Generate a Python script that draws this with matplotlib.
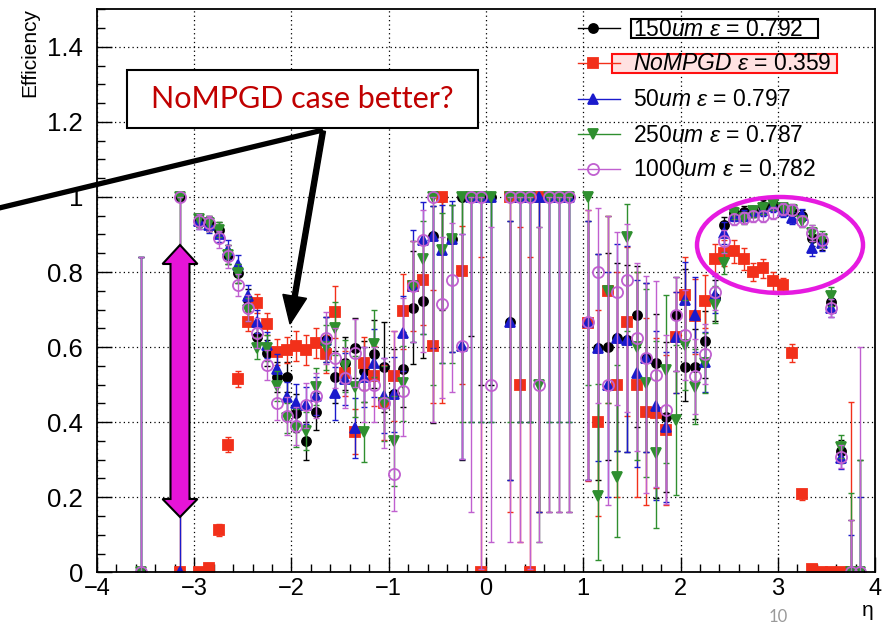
import numpy as np
import matplotlib
matplotlib.use('Agg')
import matplotlib.pyplot as plt
from matplotlib.ticker import MultipleLocator, FixedLocator, FixedFormatter
from matplotlib.patches import Rectangle, Ellipse, Polygon

plt.rcParams['font.family'] = ['Liberation Sans', 'DejaVu Sans']
plt.rcParams['mathtext.fontset'] = 'custom'
plt.rcParams['mathtext.rm'] = 'Liberation Sans'
plt.rcParams['mathtext.it'] = 'Liberation Sans:italic'

nan = np.nan

# eta bin centres (bins with no entries left out)
eta = [-3.55, -3.15, -2.95, -2.85, -2.75, -2.65, -2.55, -2.45, -2.35, -2.25,
       -2.15, -2.05, -1.95, -1.85, -1.75, -1.65, -1.55, -1.45, -1.35, -1.25,
       -1.15, -1.05, -0.95, -0.85, -0.75, -0.65, -0.55, -0.45, -0.35, -0.25,
       -0.15, -0.05, 0.05, 0.25, 0.35, 0.45, 0.55, 0.65, 0.75, 0.85,
       1.05, 1.15, 1.25, 1.35, 1.45, 1.55, 1.65, 1.75, 1.85, 1.95,
       2.05, 2.15, 2.25, 2.35, 2.45, 2.55, 2.65, 2.75, 2.85, 2.95,
       3.05, 3.15, 3.25, 3.35, 3.45, 3.55, 3.65, 3.75, 3.85]

eff_150 = [0, 1.0, 0.94, 0.93, 0.913, 0.846, 0.797, 0.726, 0.628, 0.584,
           0.52, 0.52, 0.424, 0.35, 0.428, 0.62, 0.52, 0.557, 0.597, 0.535,
           0.582, 0.548, 0.474, 0.541, 0.705, 0.722, 0.897, 1.0, 0.888, 1.0,
           1.0, 1.0, 1.0, 0.666, 1.0, 1.0, 1.0, 1.0, 1.0, 1.0,
           0.666, 0.597, 0.6, 0.624, 0.62, 0.686, 0.57, 0.557, 0.413, 0.686,
           0.547, 0.548, 0.617, 0.73, 0.926, 0.957, 0.96, 0.962, 0.977, 0.98,
           0.97, 0.96, 0.95, 0.89, 0.88, 0.72, 0.322, 0, 0]
eff_nompgd = [nan, 0.0, 0.0, 0.012, 0.113, 0.34, 0.515, 0.668, 0.717, 0.662,
              0.586, 0.593, 0.603, 0.593, 0.61, 0.582, 0.693, 0.53, 0.374, 0.557,
              0.522, 0.452, 0.523, 0.696, 0.763, 0.778, 0.602, 1.0, nan, 0.802,
              nan, 0.0, nan, 1.0, 0.5, 0.0, 1.0, nan, nan, nan,
              0.664, 0.4, 0.75, 0.5, 0.666, 0.5, 0.428, 0.424, 0.38, 0.628,
              0.74, 0.682, 0.722, 0.835, 0.85, 0.855, 0.835, 0.80, 0.81, 0.775,
              0.765, 0.584, 0.208, 0.01, 0.0, 0.0, 0.0, 0.0, nan]
eff_50 = [0, 0, 0.935, 0.925, 0.90, 0.86, 0.82, 0.735, 0.668, 0.606,
          0.542, 0.467, 0.452, 0.445, 0.47, 0.62, 0.477, 0.515, 0.384, 0.52,
          0.557, 0.47, 0.474, 0.637, 0.763, 0.886, 0.897, 0.858, 0.888, 0.602,
          1.0, 1.0, 1.0, 0.666, 1.0, 1.0, 1.0, 1.0, 1.0, 1.0,
          0.666, 0.597, 0.5, 0.624, 0.62, 0.53, 0.57, 0.442, 0.388, 0.628,
          0.726, 0.686, 0.56, 0.74, 0.904, 0.95, 0.95, 0.962, 0.965, 0.975,
          0.962, 0.944, 0.953, 0.864, 0.877, 0.704, 0.304, 0, 0]
eff_250 = [0, 1.0, 0.94, 0.93, 0.913, 0.846, 0.797, 0.70, 0.597, 0.597,
           0.497, 0.41, 0.384, 0.377, 0.495, 0.60, 0.65, 0.55, 0.495, 0.375,
           0.609, 0.45, 0.35, 0.504, 0.763, 0.835, 1.0, 0.858, 0.888, 1.0,
           1.0, 1.0, 1.0, 1.0, 1.0, 1.0, 0.5, 1.0, 1.0, 1.0,
           1.0, 0.203, 0.75, 0.253, 0.892, 0.6, 0.504, 0.317, 0.54, 0.405,
           0.606, 0.495, 0.557, 0.713, 0.824, 0.957, 0.944, 0.962, 0.97, 0.98,
           0.97, 0.966, 0.935, 0.904, 0.888, 0.735, 0.335, 0, 0]
eff_1000 = [0, 1.0, 0.935, 0.93, 0.89, 0.842, 0.766, 0.704, 0.637, 0.553,
            0.45, 0.417, 0.39, 0.445, 0.47, 0.624, 0.572, 0.517, 0.584, 0.50,
            0.50, 0.452, 0.262, 0.482, 0.763, 0.886, 1.0, 0.714, 0.78, 0.602,
            1.0, 1.0, 0.5, 1.0, 1.0, 1.0, 0.5, 1.0, 1.0, 1.0,
            0.666, 0.8, 0.5, 0.746, 0.778, 0.624, 0.57, 0.526, 0.433, 0.686,
            0.633, 0.522, 0.582, 0.748, 0.882, 0.94, 0.944, 0.948, 0.948, 0.957,
            0.968, 0.966, 0.935, 0.904, 0.885, 0.704, 0.308, 0, 0]

# asymmetric errors (down, up)
lo_150 = [0, .84, .02, .02, .02, .025, .025, .03, .03, .035,
          .04, .04, .05, .05, .05, .06, .07, .07, .08, .08,
          .09, .12, .12, .1, .15, .15, .5, .3, .3, .7,
          .37, .5, .5, .42, .6, .6, .84, .84, .84, .84,
          .42, .35, .3, .3, .3, .3, .25, .36, .2, .15,
          .09, .14, .1, .06, .03, .015, .015, .015, .015, .015,
          .015, .015, .015, .02, .02, .025, .03, 0, 0]
hi_150 = [.84, 0, .015, .02, .02, .025, .025, .03, .03, .035,
          .04, .04, .05, .05, .05, .06, .07, .07, .08, .08,
          .09, .12, .12, .1, .15, .12, .08, 0, .09, 0,
          0, 0, 0, .27, 0, 0, 0, 0, 0, 0,
          .27, .25, .25, .2, .2, .13, .2, .13, .2, .1,
          .26, .1, .08, .05, .02, .015, .015, .015, .015, .015,
          .015, .015, .015, .02, .02, .025, .03, .14, .3]
lo_nompgd = [0, 0, 0, .008, .015, .02, .02, .025, .025, .03,
             .035, .035, .04, .04, .04, .05, .07, .06, .06, .07,
             .08, .1, .12, .1, .12, .12, .15, .55, 0, .3,
             0, 0, 0, .84, .42, 0, .84, 0, 0, 0,
             .42, .25, .3, .3, .25, .3, .25, .2, .2, .15,
             .12, .1, .07, .04, .035, .03, .03, .025, .025, .025,
             .02, .025, .015, 0, 0, 0, 0, 0, 0]
hi_nompgd = [0, .84, .01, .012, .015, .02, .02, .025, .025, .03,
             .035, .035, .04, .04, .04, .05, .07, .06, .06, .07,
             .08, .1, .12, .1, .12, .1, .15, 0, 0, .12,
             0, .84, 0, 0, .42, .84, 0, 0, 0, 0,
             .3, .3, .2, .3, .2, .3, .25, .2, .2, .12,
             .1, .1, .07, .04, .035, .03, .03, .025, .025, .025,
             .02, .025, .015, .01, .005, .005, .005, .455, 0]
lo_50 = [0, 0, .02, .02, .02, .025, .025, .03, .03, .035,
         .04, .04, .05, .05, .05, .06, .07, .07, .08, .08,
         .09, .1, .1, .1, .15, .25, .3, .3, .3, .3,
         .6, .6, .6, .42, .6, .6, .84, .6, .6, .6,
         .42, .3, .3, .3, .3, .25, .25, .25, .2, .15,
         .12, .1, .08, .05, .03, .015, .015, .015, .015, .015,
         .015, .015, .015, .02, .02, .025, .03, 0, 0]
hi_50 = [.84, .84, .015, .02, .02, .025, .025, .03, .03, .035,
         .04, .04, .05, .05, .05, .06, .07, .07, .08, .08,
         .09, .1, .1, .1, .15, .1, .08, .12, .1, .3,
         0, 0, 0, .27, 0, 0, 0, 0, 0, 0,
         .27, .25, .3, .25, .25, .25, .2, .2, .2, .12,
         .1, .1, .08, .05, .03, .015, .015, .015, .015, .015,
         .015, .015, .015, .02, .02, .025, .03, .1, .2]
lo_250 = [0, .84, .02, .02, .02, .025, .025, .03, .03, .035,
          .04, .04, .05, .05, .05, .06, .07, .07, .08, .08,
          .09, .1, .12, .1, .15, .2, .5, .3, .33, .6,
          .6, .6, .6, .6, .6, .6, .42, .6, .6, .6,
          .5, .17, .3, .16, .25, .3, .25, .2, .25, .2,
          .12, .1, .08, .05, .03, .015, .015, .015, .015, .015,
          .015, .015, .015, .02, .02, .025, .03, 0, 0]
hi_250 = [.84, 0, .015, .02, .02, .025, .025, .03, .03, .035,
          .04, .04, .05, .05, .05, .06, .07, .07, .08, .08,
          .09, .1, .12, .1, .12, .1, 0, .1, .09, 0,
          0, 0, 0, 0, 0, 0, .42, 0, 0, 0,
          0, .3, .2, .3, .09, .2, .25, .3, .2, .2,
          .12, .1, .08, .05, .03, .015, .015, .015, .015, .015,
          .015, .015, .015, .02, .02, .025, .03, .21, .3]
lo_1000 = [0, .84, .02, .02, .025, .03, .03, .035, .04, .04,
           .045, .05, .05, .06, .06, .07, .08, .08, .09, .1,
           .1, .12, .1, .12, .15, .3, .6, .25, .3, .3,
           .84, .99, .42, .92, .92, .99, .42, .84, .84, .84,
           .42, .35, .32, .3, .35, .3, .36, .3, .25, .15,
           .12, .1, .08, .05, .03, .015, .015, .015, .015, .015,
           .015, .015, .015, .02, .02, .025, .03, 0, 0]
hi_1000 = [.84, 0, .02, .02, .02, .03, .03, .035, .04, .04,
           .045, .05, .05, .06, .06, .07, .08, .08, .09, .1,
           .1, .12, .38, .25, .12, .08, 0, .18, .15, .3,
           0, 0, .42, 0, 0, 0, .42, 0, 0, 0,
           .3, .17, .45, .16, .15, .2, .22, .25, .2, .1,
           .12, .1, .08, .05, .03, .015, .015, .015, .015, .015,
           .015, .015, .015, .02, .02, .025, .03, .14, .6]

labels = ['150$\\mathit{um}$ $\\mathit{\u03b5}$ = 0.792',
          '$\\mathit{NoMPGD}$ $\\mathit{\u03b5}$ = 0.359',
          '50$\\mathit{um}$ $\\mathit{\u03b5}$ = 0.797',
          '250$\\mathit{um}$ $\\mathit{\u03b5}$ = 0.787',
          '1000$\\mathit{um}$ $\\mathit{\u03b5}$ = 0.782']

series = [
    (eff_150, lo_150, hi_150, dict(marker='o', color='black', ms=6.5, mfc='black')),
    (eff_nompgd, lo_nompgd, hi_nompgd, dict(marker='s', color='#f2301a', ms=6.5, mfc='#f2301a')),
    (eff_50, lo_50, hi_50, dict(marker='^', color='#1a1acc', ms=7, mfc='#1a1acc')),
    (eff_250, lo_250, hi_250, dict(marker='v', color='#2f8f2f', ms=7, mfc='#2f8f2f')),
    (eff_1000, lo_1000, hi_1000, dict(marker='o', color='#c060d0', ms=8, mfc='none')),
]

fig = plt.figure(figsize=(8.88, 6.28), dpi=100)
ax = fig.add_axes([0.1092, 0.0887, 0.8762, 0.8965])

for vals, lo, hi, st in series:
    ax.errorbar(eta, np.array(vals, dtype=float), yerr=[lo, hi], fmt='none',
                ecolor=st['color'], elinewidth=1, capsize=2.5, capthick=1)
    ax.plot(eta, np.array(vals, dtype=float), linestyle='none', marker=st['marker'],
            color=st['color'], mfc=st['mfc'], mec=st['color'], ms=st['ms'], mew=1.3)

ax.set_xlim(-4, 4)
ax.set_ylim(0, 1.5)
ax.xaxis.set_major_locator(MultipleLocator(1))
ax.xaxis.set_minor_locator(MultipleLocator(0.2))
ax.yaxis.set_major_locator(FixedLocator([0, 0.2, 0.4, 0.6, 0.8, 1.0, 1.2, 1.4]))
ax.yaxis.set_major_formatter(FixedFormatter(['0', '0.2', '0.4', '0.6', '0.8', '1', '1.2', '1.4']))
ax.yaxis.set_minor_locator(MultipleLocator(0.05))
ax.tick_params(which='both', direction='in', top=False, right=False, labelsize=17, width=1)
ax.tick_params(axis='y', labelsize=18.5)
ax.tick_params(which='major', length=11)
ax.tick_params(which='minor', length=5.5)
ax.tick_params(axis='y', pad=10)
ax.tick_params(axis='x', pad=4)
ax.grid(True, which='major', linestyle=(0, (1, 2.5)), color='black', linewidth=0.9)
for sp in ax.spines.values():
    sp.set_linewidth(1.3)

fig.text(30 / 888, 1 - 8 / 628, 'Efficiency', rotation=90, ha='center', va='top', fontsize=15)
fig.text(868 / 888, 1 - 611 / 628, '\u03b7', ha='center', va='center', fontsize=15)

# overlay in pixel coordinates for legend and slide annotations
ov = fig.add_axes([0, 0, 1, 1])
ov.set_xlim(0, 888)
ov.set_ylim(628, 0)
ov.axis('off')

rows = [28, 63, 99, 134, 169]
ov.add_patch(Rectangle((631, 18.5), 187, 19, fill=False, ec='black', lw=1.5, zorder=1))
ov.add_patch(Rectangle((612, 54), 225, 18.5, fc='#ffe2e2', ec='#ff1010', lw=1.5, zorder=1))
for (vals, lo, hi, st), lab, y in zip(series, labels, rows):
    ov.plot([578, 620], [y, y], color=st['color'], lw=1, zorder=2)
    ov.plot([593], [y], marker=st['marker'], color=st['color'], mfc=st['mfc'],
            mec=st['color'], ms=st['ms'], mew=1.3, zorder=3)
    ov.text(633, y + 1, lab, fontsize=16.5, ha='left', va='center', zorder=3)

# "NoMPGD case better?" call-out
ov.add_patch(Rectangle((127, 70), 351, 58, fc='white', ec='black', lw=1.5, zorder=4))
ov.text(302, 99, 'NoMPGD case better?', color='#c00000', fontsize=22,
        family=['Lato', 'DejaVu Sans'], ha='center', va='center', zorder=5)
ov.plot([323, -5], [130, 209], color='black', lw=3.8, solid_capstyle='butt', zorder=4)
ov.arrow(323, 131, 290 - 323, 324 - 131, width=5, head_width=24, head_length=28,
         length_includes_head=True, fc='black', ec='black', zorder=4)

# magenta double arrow and ellipse
ov.add_patch(Polygon([(180, 245), (197.5, 264), (189.5, 264), (189.5, 499), (197.5, 499),
                      (180, 517), (162.5, 499), (170.5, 499), (170.5, 264), (162.5, 264)],
                     closed=True, fc='#e614d8', ec='black', lw=1.5, zorder=4))
ov.add_patch(Ellipse((780, 245), 166, 96, fill=False, ec='#e61ae0', lw=3.2, zorder=4))

ov.text(778, 617, '10', color='#9a9a9a', fontsize=12, ha='center', va='center',
        family=['Lato', 'DejaVu Sans'])

fig.savefig('out.png', dpi=100)
